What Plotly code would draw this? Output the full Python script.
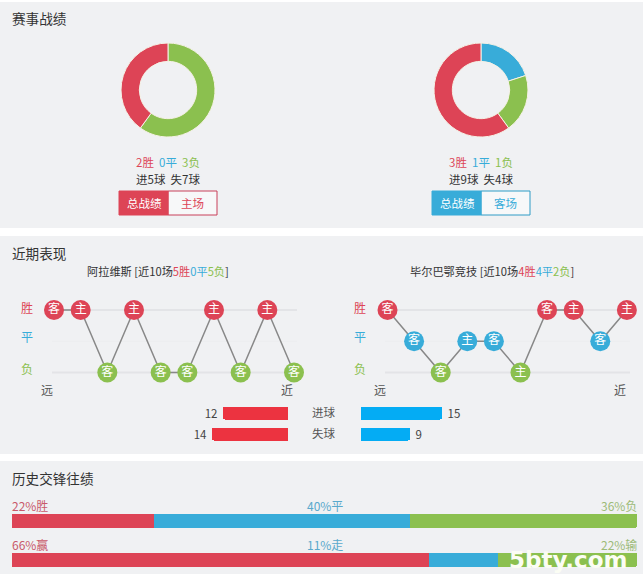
import plotly.graph_objects as go

W, H = 643, 574
FONT = "Noto Sans CJK SC"

RED = "#dd4456"
BLUE = "#38acd9"
GREEN = "#8bc04f"
PANEL = "#f0f1f3"
DARK = "#333333"

# donuts
donut_labels = ["平", "负", "胜"]
home_counts = [0, 3, 2]
away_counts = [1, 1, 3]

# recent form, 2 = win, 1 = draw, 0 = loss
match_no = [0, 1, 2, 3, 4, 5, 6, 7, 8, 9]
home_form = [2, 2, 0, 2, 0, 0, 2, 0, 2, 0]
home_venue = ["客", "主", "客", "主", "客", "客", "主", "客", "主", "客"]
away_form = [2, 1, 0, 1, 1, 0, 2, 2, 1, 2]
away_venue = ["客", "客", "客", "主", "客", "主", "客", "主", "客", "主"]
form_colors = [GREEN, BLUE, RED]

# goals
goal_labels = ["进球", "失球"]
home_goals = [12, 14]
away_goals = [15, 9]

# head to head
h2h_rows = ["a", "b"]
h2h_win = [22.7, 66.7]
h2h_draw = [40.9, 11.1]
h2h_loss = [36.4, 22.2]
h2h_text_win = ["22%胜", "66%赢"]
h2h_text_draw = ["40%平", "11%走"]
h2h_text_loss = ["36%负", "22%输"]


def px(x):
    return x / W


def py(y):
    return 1 - y / H


def panel(y0, y1):
    return dict(type="rect", xref="paper", yref="paper", x0=0, x1=1, y0=py(y1), y1=py(y0),
                fillcolor=PANEL, line_width=0, layer="below")


def note(x, y, text, size=12, color=DARK, anchor="center", family=FONT, **kw):
    return dict(x=x, y=y, text=text, showarrow=False, xanchor=anchor, yanchor="middle",
                borderpad=0, borderwidth=0,
                font=dict(family=family, size=size, color=color), **kw)


def page_note(x, y, text, **kw):
    return note(px(x), py(y), text, xref="paper", yref="paper", **kw)


def span(text, color):
    return f'<span style="color:{color}">{text}</span>'


def button_shapes(x0, color, edge):
    top, bottom = py(191), py(215)
    return [
        dict(type="rect", xref="paper", yref="paper", x0=px(x0 + 49), x1=px(x0 + 98), y0=bottom, y1=top,
             fillcolor="#f7f8f9", line=dict(color=edge, width=1)),
        dict(type="rect", xref="paper", yref="paper", x0=px(x0), x1=px(x0 + 49), y0=bottom, y1=top,
             fillcolor=color, line=dict(color=color, width=1)),
    ]


fig = go.Figure()

# donuts
for counts, left in [(home_counts, 121), (away_counts, 434)]:
    fig.add_trace(go.Pie(
        labels=donut_labels, values=counts, hole=0.61, sort=False, direction="clockwise",
        marker=dict(colors=[BLUE, GREEN, RED], line=dict(color="#f5f1e6", width=1)),
        textinfo="none", showlegend=False,
        domain=dict(x=[px(left), px(left + 94)], y=[py(137), py(43)]),
    ))


def form_trace(values, venues, xa, ya):
    return go.Scatter(
        x=match_no, y=values, text=venues, mode="lines+markers+text", xaxis=xa, yaxis=ya,
        line=dict(color="#888888", width=1.5),
        marker=dict(size=20, color=[form_colors[v] for v in values]),
        textposition="middle center",
        textfont=dict(family=FONT, size=12, color="white"),
        cliponaxis=False, showlegend=False,
    )


fig.add_trace(form_trace(home_form, home_venue, "x", "y"))
fig.add_trace(form_trace(away_form, away_venue, "x2", "y2"))

# goal bars
for vals, color, xa, ya in [(home_goals, "#ec3340", "x3", "y3"), (away_goals, "#04acf4", "x4", "y4")]:
    fig.add_trace(go.Bar(
        x=vals, y=goal_labels, orientation="h", xaxis=xa, yaxis=ya, width=0.66,
        marker=dict(color=color, line_width=0),
        text=[f" {v} " for v in vals], textposition="outside", cliponaxis=False, constraintext="none",
        textfont=dict(family=FONT, size=11.5, color="#444444"),
        showlegend=False,
    ))

# head to head
for vals, color in [(h2h_win, RED), (h2h_draw, BLUE), (h2h_loss, GREEN)]:
    fig.add_trace(go.Bar(
        x=vals, y=h2h_rows, orientation="h", xaxis="x5", yaxis="y5", width=14 / 39,
        marker=dict(color=color, line_width=0), showlegend=False,
    ))

annotations = [
    page_note(12, 18, "赛事战绩", size=13.6, anchor="left"),
    page_note(12, 253, "近期表现", size=13.6, anchor="left"),
    page_note(12, 478, "历史交锋往绩", size=13.6, anchor="left"),
    page_note(168, 162, span("2胜", RED) + "  " + span("0平", BLUE) + "  " + span("3负", GREEN), size=11.5),
    page_note(168, 179, "进5球  失7球", size=11.5),
    page_note(481, 162, span("3胜", RED) + "  " + span("1平", BLUE) + "  " + span("1负", GREEN), size=11.5),
    page_note(481, 179, "进9球  失4球", size=11.5),
    page_note(144, 203, "总战绩", size=11.5, color="white"),
    page_note(192, 203, "主场", size=11.5, color=RED),
    page_note(457, 203, "总战绩", size=11.5, color="white"),
    page_note(505, 203, "客场", size=11.5, color=BLUE),
    page_note(157.5, 271, "阿拉维斯 [近10场" + span("5胜", RED) + span("0平", BLUE) + span("5负", GREEN) + "]", size=11.2),
    page_note(491.5, 271, "毕尔巴鄂竞技 [近10场" + span("4胜", RED) + span("4平", BLUE) + span("2负", GREEN) + "]", size=11.2),
    page_note(568, 560, "<b>5bty.com</b>", size=23, color="#fbfdf4", family="DejaVu Sans"),
]

for xa, ya in [("x", "y"), ("x2", "y2")]:
    for level, label, color, shift in [(2, "胜", RED, 3), (1, "平", BLUE, 5), (0, "负", GREEN, 4)]:
        annotations.append(note(-1.03, level, label, color=color, xref=xa, yref=ya, yshift=shift))
    annotations.append(note(-0.28, -0.55, "远", color="#555555", xref=xa, yref=ya))
    annotations.append(note(8.75, -0.55, "近", color="#555555", xref=xa, yref=ya))

for row, (a, b, c) in enumerate(zip(h2h_text_win, h2h_text_draw, h2h_text_loss)):
    annotations.append(note(0, h2h_rows[row], a, color="#c9596a", anchor="left", xref="x5", yref="y5", yshift=16))
    annotations.append(note(50, h2h_rows[row], b, color="#5aa9cc", xref="x5", yref="y5", yshift=16))
    annotations.append(note(100, h2h_rows[row], c, color="#9dbb78", anchor="right", xref="x5", yref="y5", yshift=16))

shapes = [panel(2, 228), panel(236, 454), panel(461, 574)]
shapes += button_shapes(119, RED, "#c8405a") + button_shapes(432, BLUE, "#2f9cc6")
for xref, yref, x0, x1 in [("x", "y", -0.075, 9.112), ("x2", "y2", -0.094, 9.118)]:
    for level, color in [(2, "#e3e4e7"), (1, "#ecedef"), (0, "#e3e4e7")]:
        shapes.append(dict(type="line", xref=xref, yref=yref, x0=x0, x1=x1, y0=level, y1=level,
                           line=dict(color=color, width=2 if level != 1 else 1), layer="below"))


def hidden(**kw):
    return dict(visible=False, fixedrange=True, **kw)


fig.update_layout(
    width=W, height=H, autosize=False,
    margin=dict(l=0, r=0, t=0, b=0),
    paper_bgcolor="white", plot_bgcolor="rgba(0,0,0,0)",
    font=dict(family=FONT, size=12, color=DARK),
    barmode="stack", bargap=0,
    showlegend=False,
    shapes=shapes, annotations=annotations,
    xaxis=hidden(domain=[px(20), px(300)], range=[-1.275, 9.225]),
    yaxis=hidden(domain=[py(400), py(300)], range=[-0.88, 2.32]),
    xaxis2=hidden(domain=[px(350), px(635)], range=[-1.41, 9.305]),
    yaxis2=hidden(domain=[py(400), py(300)], range=[-0.88, 2.32]),
    xaxis3=hidden(domain=[px(180), px(288)], range=[20, 0]),
    yaxis3=hidden(domain=[py(444.5), py(402.5)], autorange="reversed"),
    xaxis4=hidden(domain=[px(361), px(469)], range=[0, 20]),
    yaxis4=dict(domain=[py(444.5), py(402.5)], autorange="reversed", fixedrange=True,
                anchor="x4", side="left", showline=False, showgrid=False, zeroline=False,
                ticks="", ticklabelstandoff=25, tickfont=dict(family=FONT, size=11.5, color="#555555")),
    xaxis5=hidden(domain=[px(12), px(637)], range=[0, 100]),
    yaxis5=hidden(domain=[py(574), py(495)], range=[1.359, -0.667]),
    barcornerradius=2,
)

fig.write_html("out.html", post_script="document.body.style.margin='0';", config=dict(displayModeBar=False))
